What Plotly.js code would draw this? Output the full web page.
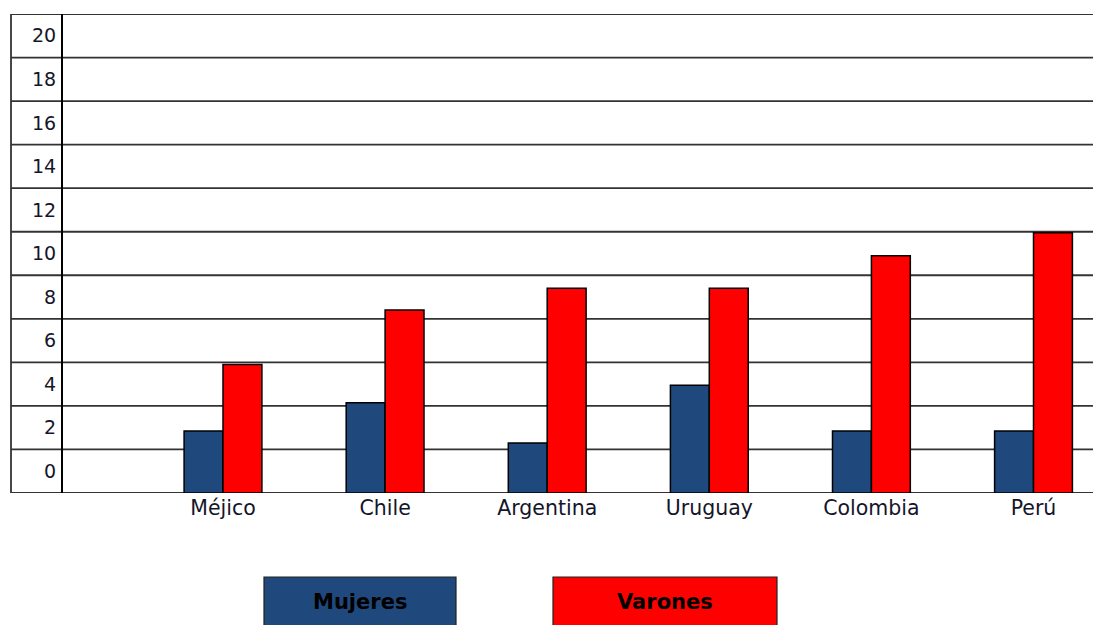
<!DOCTYPE html>
<html>
<head>
<meta charset="utf-8">
<script src="https://cdn.plot.ly/plotly-3.0.1.min.js"></script>
<style>
  html, body { margin: 0; padding: 0; background: #fff; }
  #chart { width: 1093px; height: 625px; }
</style>
</head>
<body>
<div id="chart"></div>
<script>
// Data (axis units: each grid band = 2)
const categories = ["Méjico", "Chile", "Argentina", "Uruguay", "Colombia", "Perú"];
const mujeres = [2.85, 4.15, 2.3, 4.95, 2.85, 2.85];
const varones = [5.9, 8.4, 9.4, 9.4, 10.9, 11.95];
const gridValues = [0, 2, 4, 6, 8, 10, 12, 14, 16, 18, 20, 22];
const tickPositions = [1, 3, 5, 7, 9, 11, 13, 15, 17, 19, 21];
const tickLabels = ["0", "2", "4", "6", "8", "10", "12", "14", "16", "18", "20"];
const seriesNames = ["Mujeres", "Varones"];
const seriesColors = ["#1f497d", "#ff0000"];

const W = 1093, H = 625;
const mL = 63, mR = 0, mT = 14, mB = 132;
const plotW = W - mL - mR, plotH = H - mT - mB;
const px = x => (x - mL) / plotW;
const py = y => (H - mB - y) / plotH;

const traces = [mujeres, varones].map((vals, i) => ({
  type: "bar",
  name: seriesNames[i],
  x: categories,
  y: vals,
  marker: { color: seriesColors[i], line: { color: "#000", width: 1.5 } },
  hoverinfo: "x+y+name"
}));

const shapes = [];
const frameLeft = px(11);
gridValues.forEach(v => {
  shapes.push({
    type: "line", xref: "paper", yref: "y",
    x0: frameLeft, x1: 1, y0: v, y1: v,
    line: { color: "#333", width: 1.8 }, layer: "below"
  });
});
shapes.push({
  type: "line", xref: "paper", yref: "y",
  x0: frameLeft, x1: frameLeft, y0: 0, y1: 22,
  line: { color: "#333", width: 1.8 }
});

// legend boxes
const legendBoxes = [
  { name: seriesNames[0], color: seriesColors[0], x0: 264, x1: 456 },
  { name: seriesNames[1], color: seriesColors[1], x0: 553, x1: 777 }
];
const annotations = [];
legendBoxes.forEach(b => {
  shapes.push({
    type: "rect", xref: "paper", yref: "paper",
    x0: px(b.x0), x1: px(b.x1), y0: py(577), y1: py(640),
    fillcolor: b.color, line: { color: "#222", width: 1.2 }
  });
  annotations.push({
    xref: "paper", yref: "paper",
    x: px((b.x0 + b.x1) / 2), y: py(602),
    xanchor: "center", yanchor: "middle",
    text: "<b>" + b.name + "</b>", showarrow: false,
    font: { family: "DejaVu Sans, Verdana, sans-serif", size: 21, color: "#000" }
  });
});

const layout = {
  width: W, height: H,
  margin: { l: mL, r: mR, t: mT, b: mB, pad: 0 },
  paper_bgcolor: "#fff", plot_bgcolor: "#fff",
  showlegend: false,
  barmode: "group",
  bargap: 0.52,
  bargroupgap: 0,
  font: { family: "DejaVu Sans, Verdana, sans-serif", size: 20, color: "#15152a" },
  xaxis: {
    type: "category",
    range: [-0.987, 5.367],
    showgrid: false, zeroline: false, showline: false,
    ticks: "", tickfont: { size: 20.5, color: "#15152a" },
    fixedrange: true
  },
  yaxis: {
    range: [0, 22],
    tickvals: tickPositions, ticktext: tickLabels,
    showgrid: false, zeroline: false,
    showline: true, linecolor: "#000", linewidth: 2,
    ticks: "outside", ticklen: 1, tickcolor: "rgba(0,0,0,0)",
    tickfont: { size: 19, color: "#15152a" },
    fixedrange: true
  },
  shapes: shapes,
  annotations: annotations
};

Plotly.newPlot("chart", traces, layout, { displayModeBar: false, staticPlot: true });
</script>
</body>
</html>
